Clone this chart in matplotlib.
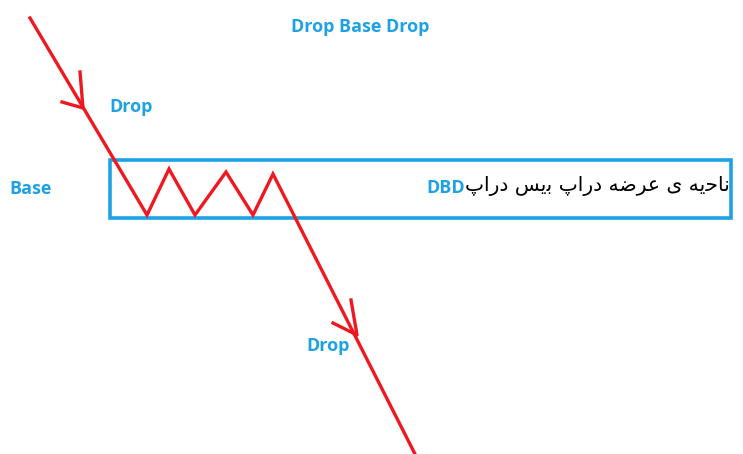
import matplotlib.pyplot as plt
from matplotlib.patches import Rectangle

# price path (pixel coords, y grows downward)
path_x = [30, 147, 169, 195, 226, 253, 273, 415]
path_y = [18, 215, 169, 215, 172, 215, 174, 454]

# hand-drawn arrow barbs: (tip, barb1, barb2)
arrows = [
    ((83, 108), (80, 72), (62, 102)),
    ((357, 335), (351, 300), (333, 323)),
]

# base / supply zone box
zone_x0, zone_y0, zone_x1, zone_y1 = 110, 160, 731, 218

labels = ["Drop Base Drop", "Drop", "Base", "Drop"]
label_pos = [(360, 27), (131, 107), (31, 189), (328, 346)]

# "ناحیه ی عرضه دراپ بیس دراپ" written in visual (shaped, left-to-right) order
persian_words = [
    "\u067E\u0627\u0631\u062F",        # دراپ
    "\uFEB2\uFBFE\uFE91",              # بیس
    "\u067E\u0627\u0631\u062F",        # دراپ
    "\uFEEA\uFEBF\uFEAE\uFECB",        # عرضه
    "\u06CC",                          # ی
    "\uFEEA\uFBFE\uFEA3\uFE8E\uFEE7",  # ناحیه
]
persian_text = " ".join(persian_words)

blue = "#1ea2e4"
red = "#f01820"

fig = plt.figure(figsize=(7.43, 4.54), dpi=100)
ax = fig.add_axes([0, 0, 1, 1])
ax.set_xlim(0, 743)
ax.set_ylim(454, 0)
ax.axis("off")

ax.add_patch(Rectangle((zone_x0, zone_y0), zone_x1 - zone_x0, zone_y1 - zone_y0,
                       fill=False, edgecolor=blue, linewidth=2.6))

ax.plot(path_x, path_y, color=red, linewidth=2.4, solid_joinstyle="miter")
for tip, b1, b2 in arrows:
    ax.plot([b1[0], tip[0], b2[0]], [b1[1], tip[1], b2[1]], color=red, linewidth=2.4)

for txt, (x, y) in zip(labels, label_pos):
    ax.text(x, y, txt, color=blue, fontsize=13, fontweight="bold",
            family=["Open Sans", "DejaVu Sans"], ha="center", va="center")

ax.text(465, 188, "DBD", color=blue, fontsize=13, fontweight="bold",
        family=["Open Sans", "DejaVu Sans"], ha="right", va="center")
ax.text(465, 186, persian_text, color="black", fontsize=14.6,
        family=["DejaVu Sans"], ha="left", va="center")

fig.savefig("out.png", dpi=100)
